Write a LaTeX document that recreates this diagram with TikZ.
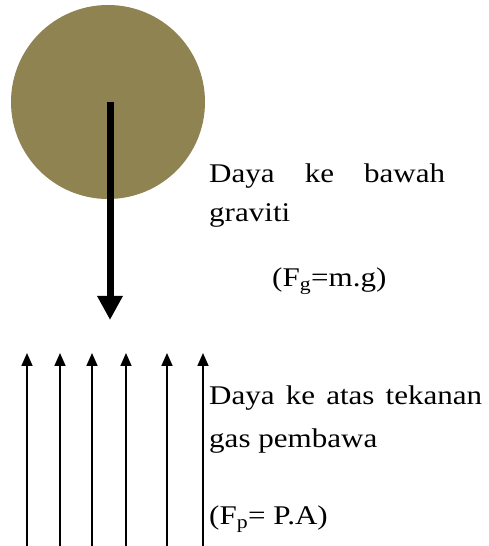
\documentclass[tikz,border=0pt]{standalone}
\usepackage{fontspec}
\setmainfont[FakeStretch=1.15]{Liberation Serif}
\usetikzlibrary{arrows.meta}
\definecolor{ballcol}{RGB}{143,131,82}
\tikzset{
  lbl/.style={inner sep=0pt, anchor=base west, font=\fontsize{27}{32}\selectfont},
  upforce/.style={line width=1.6pt, -{Triangle[width=11pt,length=13pt]}},
  downforce/.style={line width=7pt, -{Triangle[width=24pt,length=24pt]}}
}
\begin{document}
\begin{tikzpicture}[x=1pt,y=1pt]
\useasboundingbox (0,0) rectangle (488,546);
% ball
\node[circle, fill=ballcol, minimum size=194pt, inner sep=0pt] (ball) at (108,444) {};
\coordinate (gtop) at (110,444);
\coordinate (gtip) at (110,226);
\draw[downforce] (gtop) -- (gtip);
% upward arrows
\foreach \i/\x in {1/27,2/60,3/92,4/126,5/167,6/203}{
  \coordinate (b\i) at (\x,0);
  \coordinate (t\i) at (\x,193);
  \draw[upforce] (b\i) -- (t\i);
}
% labels
\node[lbl] (g1) at (209,363) {\hbox to 236pt{Daya\hfill ke\hfill bawah}};
\node[lbl] (g2) at (209,324) {graviti};
\node[lbl] (g3) at (272,259) {(F\textsubscript{g}=m.g)};
\node[lbl] (p1) at (209,141) {\hbox to 273pt{Daya\hfill ke\hfill atas\hfill tekanan}};
\node[lbl] (p2) at (209,98) {gas pembawa};
\node[lbl] (p3) at (209,21) {(F\textsubscript{p}= P.A)};
\end{tikzpicture}
\end{document}
